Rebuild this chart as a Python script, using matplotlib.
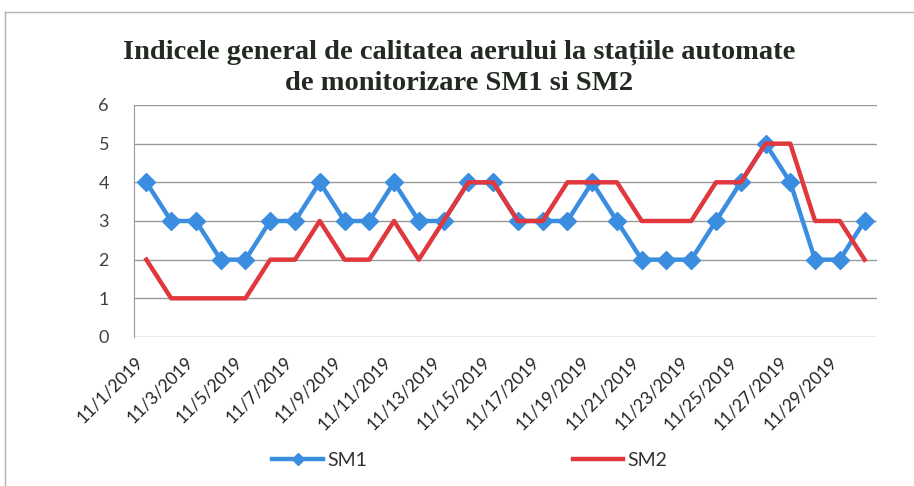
import matplotlib.pyplot as plt
from matplotlib.lines import Line2D

days = [f"11/{d}/2019" for d in range(1, 31)]
sm1 = [4, 3, 3, 2, 2, 3, 3, 4, 3, 3, 4, 3, 3, 4, 4, 3, 3, 3, 4, 3,
       2, 2, 2, 3, 4, 5, 4, 2, 2, 3]
sm2 = [2, 1, 1, 1, 1, 2, 2, 3, 2, 2, 3, 2, 3, 4, 4, 3, 3, 4, 4, 4,
       3, 3, 3, 4, 4, 5, 5, 3, 3, 2]
title = "Indicele general de calitatea aerului la stațiile automate\nde monitorizare SM1 si SM2"

fig = plt.figure(figsize=(9.14, 4.86), dpi=100)
ax = fig.add_axes([0.1466, 0.3066, 0.8129, 0.4774])

x = range(len(days))
ax.plot(x, sm1, color='#3b8de0', lw=3.2, marker='D', markersize=9, label="SM1")
ax.plot(x, sm2, color='#e0383d', lw=3.2, label="SM2")

ax.set_xlim(-0.5, len(days) - 0.5)
ax.set_ylim(0, 6)
ax.set_yticks(range(7))
ax.set_xticks(list(x)[::2])
ax.set_xticklabels(days[::2], rotation=45, ha='right', rotation_mode='default')
ax.grid(axis='y', color='#9a9a9a', lw=1)
ax.set_axisbelow(True)
for s in ['top', 'right', 'bottom']:
    ax.spines[s].set_visible(False)
ax.spines['left'].set_color('#9a9a9a')
ax.tick_params(axis='y', length=0, pad=18, labelsize=13, labelcolor='#404040')
ax.tick_params(axis='x', length=0, pad=12, labelsize=12.5, labelcolor='#222222')
for lab in ax.get_yticklabels() + ax.get_xticklabels():
    lab.set_family('Lato')

fig.text(0.502, 0.86, title, ha='center', va='center', fontsize=20.5,
         fontweight='bold', family='Liberation Serif', color='#222a22',
         linespacing=1.3)

fig.legend(loc='center', bbox_to_anchor=(0.514, 0.053), ncol=2, frameon=False,
           handlelength=2.6, columnspacing=10.6, markerscale=0.65,
           prop={'family': 'Lato', 'size': 14},
           labelcolor='#333333', handletextpad=0.2)

fig.add_artist(Line2D([0.005, 1.0], [0.975, 0.975], color='#b0b0b0', lw=1))
fig.add_artist(Line2D([0.005, 0.005], [0.0, 0.975], color='#b0b0b0', lw=1))

fig.savefig("out.png", dpi=100)
